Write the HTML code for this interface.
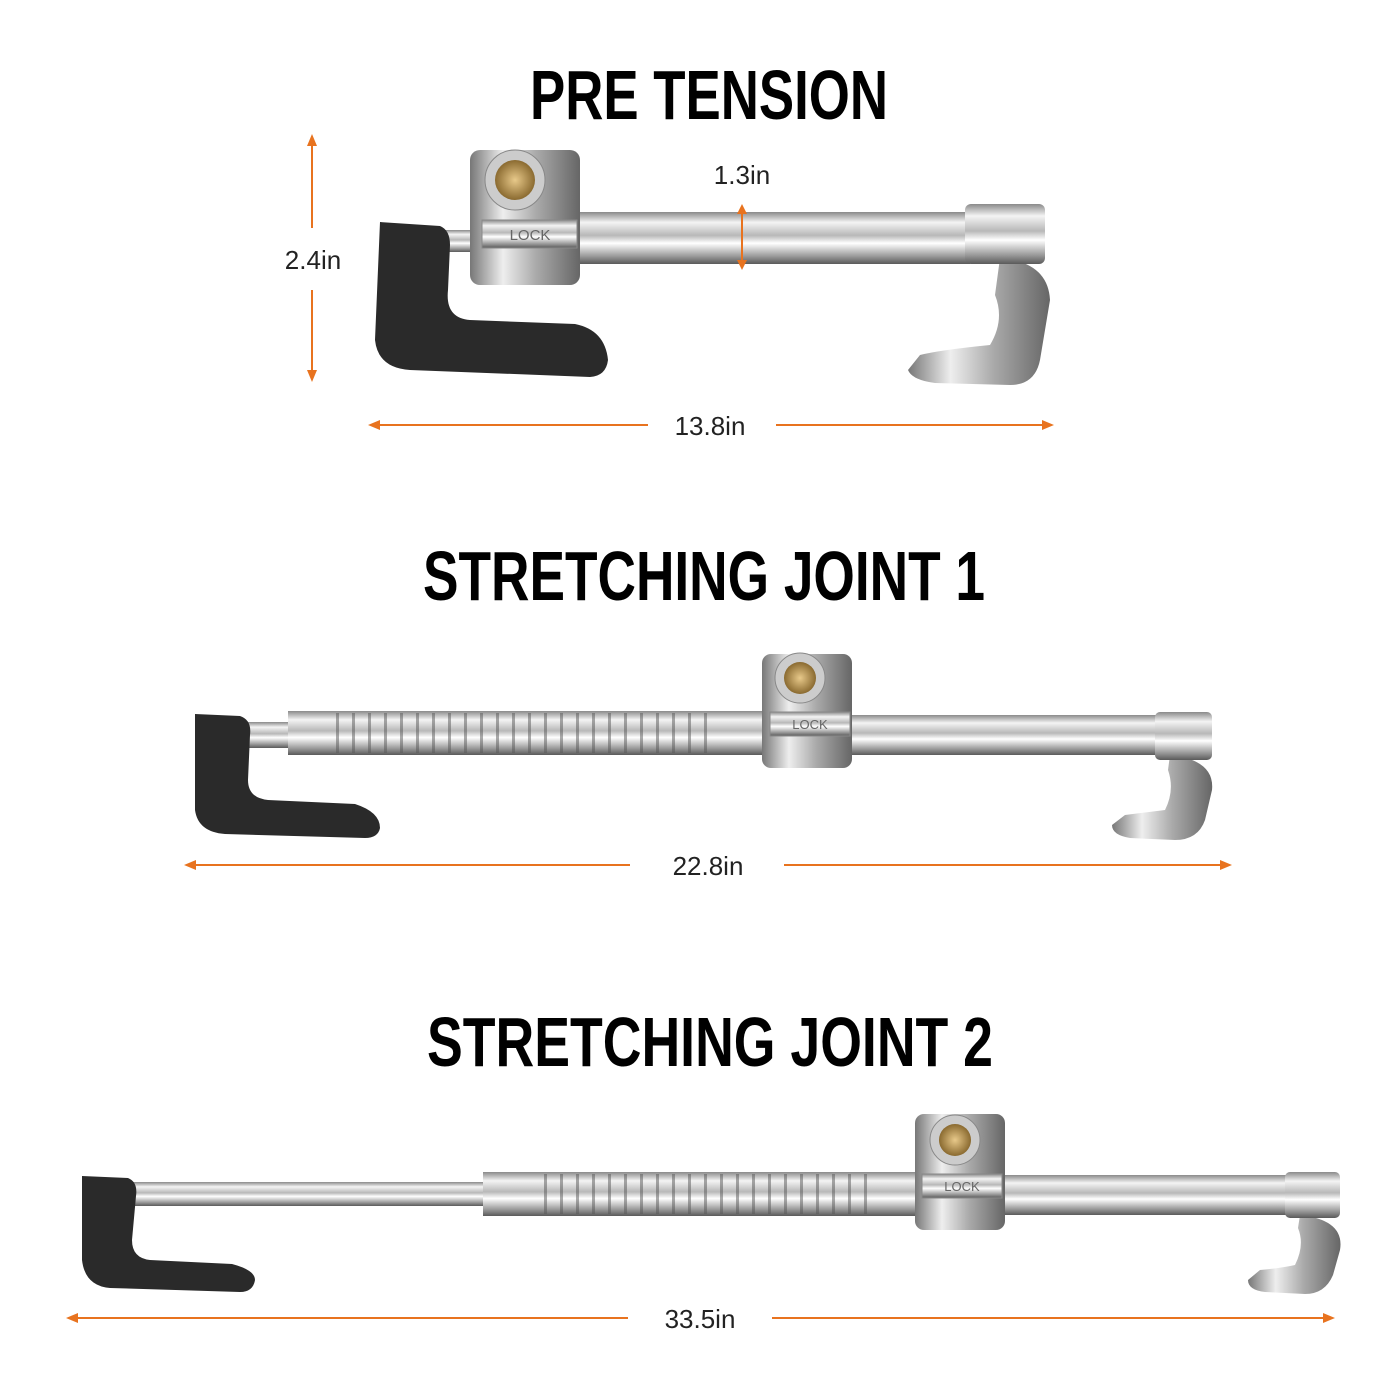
<!DOCTYPE html>
<html><head><meta charset="utf-8"><style>
html,body{margin:0;padding:0;background:#fff;}
svg{display:block;}
.t{font-family:"Liberation Sans Narrow","Liberation Sans",sans-serif;font-weight:bold;fill:#000;}
.d{font-family:"Liberation Sans",sans-serif;font-size:26px;fill:#222;}
.o{stroke:#e8731f;stroke-width:2;fill:none;}
.oa{fill:#e8731f;}
</style></head><body>
<svg width="1400" height="1400" viewBox="0 0 1400 1400" xmlns="http://www.w3.org/2000/svg">
<defs>
<linearGradient id="ch" x1="0" y1="0" x2="0" y2="1">
<stop offset="0" stop-color="#8a8a8a"/><stop offset="0.2" stop-color="#f4f4f4"/><stop offset="0.45" stop-color="#b8b8b8"/><stop offset="0.6" stop-color="#ffffff"/><stop offset="0.85" stop-color="#9a9a9a"/><stop offset="1" stop-color="#5a5a5a"/>
</linearGradient>
<linearGradient id="chv" x1="0" y1="0" x2="1" y2="0">
<stop offset="0" stop-color="#777"/><stop offset="0.3" stop-color="#eee"/><stop offset="0.6" stop-color="#aaa"/><stop offset="1" stop-color="#666"/>
</linearGradient>
<radialGradient id="br"><stop offset="0" stop-color="#e8c98a"/><stop offset="1" stop-color="#8a6a30"/></radialGradient>
<pattern id="rib" width="16" height="10" patternUnits="userSpaceOnUse"><rect x="0" y="0" width="3" height="10" fill="#555" opacity="0.5"/></pattern>
</defs>

<text class="t" x="709" y="119" font-size="70" text-anchor="middle" textLength="358" lengthAdjust="spacingAndGlyphs">PRE TENSION</text>
<text class="t" x="704" y="600" font-size="70" text-anchor="middle" textLength="562" lengthAdjust="spacingAndGlyphs">STRETCHING JOINT 1</text>
<text class="t" x="710" y="1066" font-size="70" text-anchor="middle" textLength="566" lengthAdjust="spacingAndGlyphs">STRETCHING JOINT 2</text>

<!-- Tool 1 -->
<rect x="445" y="230" width="30" height="22" fill="url(#ch)"/>
<path d="M380 222 L440 226 Q450 230 450 245 L448 290 Q445 318 470 320 L575 324 Q605 330 608 360 Q606 376 590 377 L410 370 Q378 368 375 340 Z" fill="#2a2a2a"/>
<rect x="578" y="212" width="392" height="52" fill="url(#ch)"/>
<path d="M1000 258 Q1048 262 1050 300 L1040 360 Q1035 385 1010 385 L935 383 Q912 380 908 370 L920 355 Q940 350 990 345 Q1005 320 995 295 Z" fill="url(#chv)"/>
<rect x="965" y="204" width="80" height="60" rx="6" fill="url(#ch)"/>
<rect x="470" y="150" width="110" height="135" rx="10" fill="url(#chv)"/>
<rect x="482" y="220" width="95" height="28" fill="url(#ch)" stroke="#888"/>
<text x="530" y="240" font-family="Liberation Sans" font-size="15" fill="#666" text-anchor="middle">LOCK</text>
<circle cx="515" cy="180" r="30" fill="#ccc" stroke="#888"/>
<circle cx="515" cy="180" r="20" fill="url(#br)"/>

<!-- dims tool1 -->
<text class="d" x="742" y="184" text-anchor="middle">1.3in</text>
<line class="o" x1="742" y1="210" x2="742" y2="264"/>
<path class="oa" d="M742 204 L737 214 L747 214Z M742 270 L737 260 L747 260Z"/>
<text class="d" x="313" y="269" text-anchor="middle">2.4in</text>
<line class="o" x1="312" y1="140" x2="312" y2="228"/>
<line class="o" x1="312" y1="290" x2="312" y2="378"/>
<path class="oa" d="M312 134 L307 146 L317 146Z M312 382 L307 370 L317 370Z"/>
<text class="d" x="710" y="435" text-anchor="middle">13.8in</text>
<line class="o" x1="372" y1="425" x2="648" y2="425"/>
<line class="o" x1="776" y1="425" x2="1050" y2="425"/>
<path class="oa" d="M368 425 L380 420 L380 430Z M1054 425 L1042 420 L1042 430Z"/>

<!-- Tool 2 -->
<rect x="245" y="722" width="50" height="26" fill="url(#ch)"/>
<path d="M195 714 L240 716 Q252 720 250 735 L248 780 Q248 798 268 800 L355 804 Q380 812 380 828 Q378 838 365 838 L225 834 Q198 832 195 810 Z" fill="#2a2a2a"/>
<rect x="288" y="711" width="478" height="44" fill="url(#ch)"/>
<rect x="330" y="713" width="390" height="40" fill="url(#rib)"/>
<rect x="850" y="715" width="310" height="40" fill="url(#ch)"/>
<path d="M1170 755 Q1215 760 1212 790 L1205 820 Q1198 840 1175 840 L1130 838 Q1112 835 1112 825 L1125 815 Q1150 812 1165 810 Q1175 790 1168 770 Z" fill="url(#chv)"/>
<rect x="1155" y="712" width="57" height="48" rx="5" fill="url(#ch)"/>
<rect x="762" y="654" width="90" height="114" rx="9" fill="url(#chv)"/>
<rect x="770" y="712" width="80" height="24" fill="url(#ch)" stroke="#888"/>
<text x="810" y="729" font-family="Liberation Sans" font-size="13" fill="#666" text-anchor="middle">LOCK</text>
<circle cx="800" cy="678" r="25" fill="#ccc" stroke="#888"/>
<circle cx="800" cy="678" r="16" fill="url(#br)"/>
<text class="d" x="708" y="875" text-anchor="middle">22.8in</text>
<line class="o" x1="188" y1="865" x2="630" y2="865"/>
<line class="o" x1="784" y1="865" x2="1228" y2="865"/>
<path class="oa" d="M184 865 L196 860 L196 870Z M1232 865 L1220 860 L1220 870Z"/>

<!-- Tool 3 -->
<rect x="130" y="1182" width="360" height="24" fill="url(#ch)"/>
<path d="M82 1176 L128 1178 Q138 1182 136 1196 L132 1240 Q132 1258 150 1260 L232 1264 Q255 1270 255 1280 Q253 1292 240 1292 L110 1288 Q85 1286 82 1260 Z" fill="#2a2a2a"/>
<rect x="483" y="1172" width="435" height="44" fill="url(#ch)"/>
<rect x="540" y="1174" width="340" height="40" fill="url(#rib)"/>
<rect x="1003" y="1175" width="290" height="40" fill="url(#ch)"/>
<path d="M1300 1215 Q1345 1220 1340 1250 L1333 1275 Q1325 1294 1305 1294 L1265 1292 Q1248 1290 1248 1280 L1260 1270 Q1282 1268 1295 1265 Q1305 1245 1298 1228 Z" fill="url(#chv)"/>
<rect x="1285" y="1172" width="55" height="46" rx="5" fill="url(#ch)"/>
<rect x="915" y="1114" width="90" height="116" rx="9" fill="url(#chv)"/>
<rect x="922" y="1174" width="80" height="24" fill="url(#ch)" stroke="#888"/>
<text x="962" y="1191" font-family="Liberation Sans" font-size="13" fill="#666" text-anchor="middle">LOCK</text>
<circle cx="955" cy="1140" r="25" fill="#ccc" stroke="#888"/>
<circle cx="955" cy="1140" r="16" fill="url(#br)"/>
<text class="d" x="700" y="1328" text-anchor="middle">33.5in</text>
<line class="o" x1="70" y1="1318" x2="628" y2="1318"/>
<line class="o" x1="772" y1="1318" x2="1331" y2="1318"/>
<path class="oa" d="M66 1318 L78 1313 L78 1323Z M1335 1318 L1323 1313 L1323 1323Z"/>
</svg>
</body></html>
